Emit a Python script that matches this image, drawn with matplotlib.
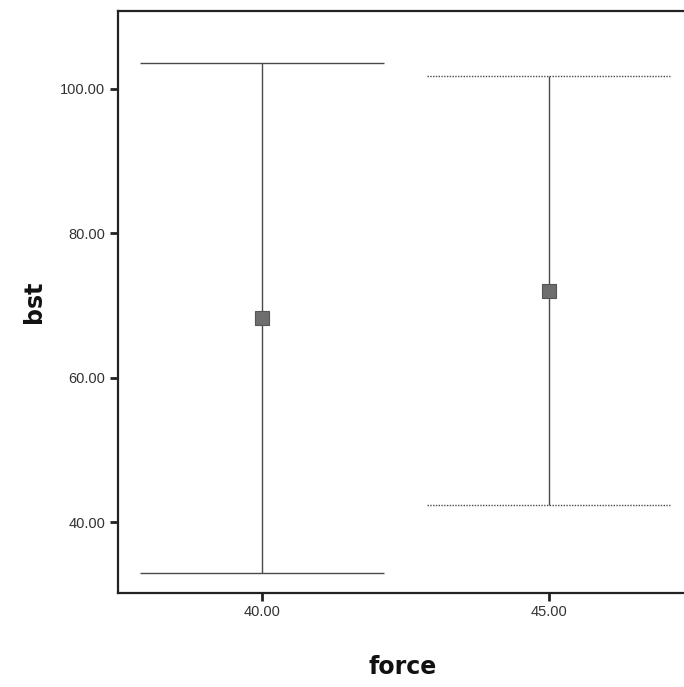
import matplotlib
matplotlib.use("Agg")
from matplotlib import pyplot as plt

# values
force = [40.0, 45.0]
bst_mean = [68.3, 72.0]
bst_low = [32.9, 42.4]
bst_high = [103.6, 101.8]
tick_labels = ["40.00", "45.00"]
y_ticks = [40, 60, 80, 100]

cap_half = 2.13   # half width of caps in x units
cap_styles = ["-", (0, (1, 1))]
line_col = "#4a4a4a"

fig = plt.figure(figsize=(6.84, 6.87), dpi=100)
ax = fig.add_axes([0.1725, 0.137, 0.832, 0.847])

for i, x in enumerate(force):
    ax.vlines(x, bst_low[i], bst_high[i], color=line_col, lw=1.0)
    ax.hlines([bst_low[i], bst_high[i]], x - cap_half, x + cap_half,
              color=line_col, lw=1.0, linestyles=cap_styles[i])
ax.plot(force, bst_mean, ls="none", marker="s", ms=10,
        mfc="#6e6e6e", mec="#555555", mew=0.8, zorder=3)

ax.set_xlim(37.48, 47.42)
ax.set_ylim(30.2, 110.8)
ax.set_xticks(force)
ax.set_xticklabels(tick_labels)
ax.set_yticks(y_ticks)
ax.set_yticklabels([f"{v:.2f}" for v in y_ticks])

for lab in ax.get_xticklabels() + ax.get_yticklabels():
    lab.set_family("Liberation Sans")
    lab.set_fontsize(10.5)
    lab.set_color("#333333")
ax.tick_params(axis="both", direction="out", length=6, width=2, color="#222222", pad=3)

for s in ["left", "bottom", "top"]:
    ax.spines[s].set_linewidth(1.6)
    ax.spines[s].set_color("#222222")
ax.spines["right"].set_visible(False)

ax.set_xlabel("force", fontsize=17, fontweight="bold", labelpad=26, color="#111111")
ax.set_ylabel("bst", fontsize=17, fontweight="bold", labelpad=10, color="#111111")

fig.savefig("out.png", dpi=100)
